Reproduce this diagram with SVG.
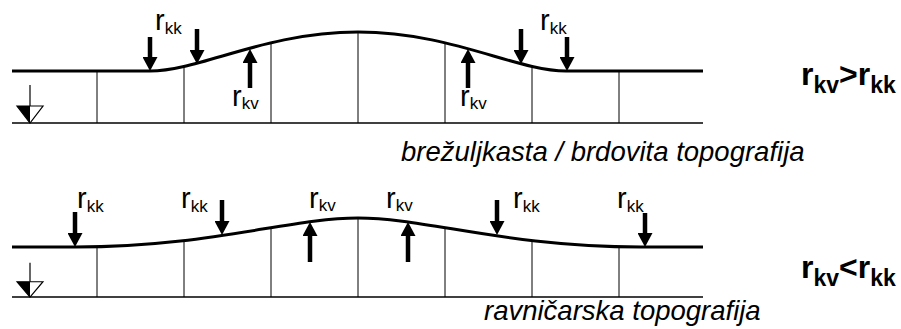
<svg xmlns="http://www.w3.org/2000/svg" width="901" height="329" viewBox="0 0 901 329">
<style>
.ground{fill:none;stroke:#000;stroke-width:3}
.base{stroke:#000;stroke-width:1.6}
.div{stroke:#000;stroke-width:1}
.arr{stroke:#000;stroke-width:4.5;fill:none}
.lab{font-family:"Liberation Sans",Arial,sans-serif;font-size:29px;fill:#000}
.sub{font-size:17px}
.big{font-family:"Liberation Sans",Arial,sans-serif;font-size:32px;font-weight:bold;fill:#000}
.bsub{font-size:23px}
.cap{font-family:"Liberation Sans",Arial,sans-serif;font-size:27.5px;font-style:italic;fill:#000}
.wt{fill:#fff;stroke:#000;stroke-width:1.2}
</style>
<defs>
<marker id="ah" markerUnits="userSpaceOnUse" markerWidth="15" markerHeight="15" refX="4" refY="7.5" orient="auto">
<path d="M0,0 L14,7.5 L0,15 z" fill="#000"/>
</marker>
<g id="wtsym">
<line x1="30" y1="-38" x2="30" y2="0" stroke="#000" stroke-width="1.2"/>
<path class="wt" d="M17,-17 L43,-17 L30,0 z"/>
<path d="M17,-17 L30,-17 L30,0 z" fill="#000"/>
</g>
</defs>

<g id="top-profile">
<line class="base" x1="12" y1="123" x2="703" y2="123"/>
<line class="div" x1="97" y1="71" x2="97" y2="123"/>
<line class="div" x1="184" y1="66" x2="184" y2="123"/>
<line class="div" x1="271" y1="42" x2="271" y2="123"/>
<line class="div" x1="358" y1="32" x2="358" y2="123"/>
<line class="div" x1="445" y1="42" x2="445" y2="123"/>
<line class="div" x1="532" y1="66" x2="532" y2="123"/>
<line class="div" x1="619" y1="71" x2="619" y2="123"/>
<path class="ground" d="M12,71 H150 C200,71 265,32 358,32 C451,32 516,71 566,71 H703"/>
<use href="#wtsym" transform="translate(0,123)"/>
</g>

<g id="bottom-profile">
<line class="base" x1="12" y1="297" x2="703" y2="297"/>
<line class="div" x1="97" y1="247" x2="97" y2="297"/>
<line class="div" x1="184" y1="240" x2="184" y2="297"/>
<line class="div" x1="271" y1="228" x2="271" y2="297"/>
<line class="div" x1="358" y1="218" x2="358" y2="297"/>
<line class="div" x1="445" y1="228" x2="445" y2="297"/>
<line class="div" x1="532" y1="240" x2="532" y2="297"/>
<line class="div" x1="619" y1="247" x2="619" y2="297"/>
<path class="ground" d="M12,247 H75 C210,247 290,218 358,218 C426,218 506,247 641,247 H703"/>
<use href="#wtsym" transform="translate(0,297) scale(1,0.9)"/>
</g>

<g id="connectors">
<line class="arr" x1="150" y1="37" x2="150" y2="61" marker-end="url(#ah)"/>
<line class="arr" x1="197" y1="29" x2="197" y2="54" marker-end="url(#ah)"/>
<line class="arr" x1="250" y1="88" x2="250" y2="59" marker-end="url(#ah)"/>
<line class="arr" x1="468" y1="88" x2="468" y2="59" marker-end="url(#ah)"/>
<line class="arr" x1="521" y1="29" x2="521" y2="54" marker-end="url(#ah)"/>
<line class="arr" x1="567" y1="37" x2="567" y2="61" marker-end="url(#ah)"/>

<line class="arr" x1="75" y1="212" x2="75" y2="237" marker-end="url(#ah)"/>
<line class="arr" x1="222" y1="200" x2="222" y2="225" marker-end="url(#ah)"/>
<line class="arr" x1="310" y1="262" x2="310" y2="232" marker-end="url(#ah)"/>
<line class="arr" x1="408" y1="262" x2="408" y2="232" marker-end="url(#ah)"/>
<line class="arr" x1="497" y1="200" x2="497" y2="225" marker-end="url(#ah)"/>
<line class="arr" x1="645" y1="213" x2="645" y2="237" marker-end="url(#ah)"/>
</g>

<g id="labels">
<text class="lab" x="155" y="30">r<tspan class="sub" dy="4">kk</tspan></text>
<text class="lab" x="232" y="106">r<tspan class="sub" dy="3">kv</tspan></text>
<text class="lab" x="460" y="106">r<tspan class="sub" dy="3">kv</tspan></text>
<text class="lab" x="540" y="30">r<tspan class="sub" dy="4">kk</tspan></text>

<text class="lab" x="77" y="208">r<tspan class="sub" dy="4">kk</tspan></text>
<text class="lab" x="181" y="208">r<tspan class="sub" dy="4">kk</tspan></text>
<text class="lab" x="309" y="208">r<tspan class="sub" dy="3">kv</tspan></text>
<text class="lab" x="386" y="208">r<tspan class="sub" dy="3">kv</tspan></text>
<text class="lab" x="513" y="208">r<tspan class="sub" dy="4">kk</tspan></text>
<text class="lab" x="617" y="208">r<tspan class="sub" dy="4">kk</tspan></text>

<text class="big" x="801" y="85">r<tspan class="bsub" dy="8">kv</tspan><tspan dy="-8">&gt;r</tspan><tspan class="bsub" dy="8">kk</tspan></text>
<text class="big" x="801" y="278">r<tspan class="bsub" dy="8">kv</tspan><tspan dy="-8">&lt;r</tspan><tspan class="bsub" dy="8">kk</tspan></text>

<text class="cap" x="401" y="161">brežuljkasta / brdovita topografija</text>
<text class="cap" x="484" y="320" font-size="28.5px">ravničarska topografija</text>
</g>
</svg>
